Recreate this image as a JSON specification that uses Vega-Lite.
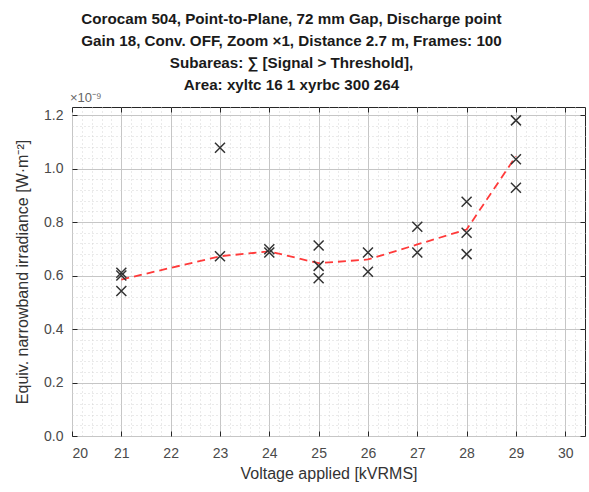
{
  "$schema": "https://vega.github.io/schema/vega-lite/v6.json",
  "autosize": {"type": "none"},
  "width": 513,
  "height": 329,
  "padding": {"left": 72, "top": 107, "right": 4, "bottom": 56},
  "background": "white",
  "config": {
    "font": "Liberation Sans",
    "view": {"stroke": "#262626", "strokeWidth": 1},
    "axis": {"domain": false, "labelFont": "Liberation Sans", "titleFont": "Liberation Sans"}
  },
  "title": {
    "text": [
      "Corocam 504, Point-to-Plane, 72 mm Gap, Discharge point",
      "Gain 18, Conv. OFF, Zoom ×1, Distance 2.7 m, Frames: 100",
      "Subareas: ∑ [Signal > Threshold],",
      "Area: xyltc 16 1 xyrbc 300 264"
    ],
    "fontSize": 15.2,
    "fontWeight": "bold",
    "font": "Liberation Sans",
    "color": "#1a1a1a",
    "lineHeight": 22,
    "anchor": "middle",
    "dx": -37,
    "offset": -1
  },
  "datasets": {
    "points": [
      {"voltage": 21, "irr": 0.61},
      {"voltage": 21, "irr": 0.60},
      {"voltage": 21, "irr": 0.542},
      {"voltage": 23, "irr": 1.078},
      {"voltage": 23, "irr": 0.672},
      {"voltage": 24, "irr": 0.698},
      {"voltage": 24, "irr": 0.686},
      {"voltage": 25, "irr": 0.712},
      {"voltage": 25, "irr": 0.636},
      {"voltage": 25, "irr": 0.59},
      {"voltage": 26, "irr": 0.686},
      {"voltage": 26, "irr": 0.614},
      {"voltage": 27, "irr": 0.782},
      {"voltage": 27, "irr": 0.686},
      {"voltage": 28, "irr": 0.876},
      {"voltage": 28, "irr": 0.76},
      {"voltage": 28, "irr": 0.68},
      {"voltage": 29, "irr": 1.18},
      {"voltage": 29, "irr": 1.035},
      {"voltage": 29, "irr": 0.928}
    ],
    "mean": [
      {"voltage": 21, "irr": 0.585},
      {"voltage": 23, "irr": 0.672},
      {"voltage": 24, "irr": 0.69},
      {"voltage": 25, "irr": 0.646},
      {"voltage": 26, "irr": 0.66},
      {"voltage": 27, "irr": 0.716},
      {"voltage": 28, "irr": 0.772},
      {"voltage": 29, "irr": 1.046}
    ],
    "note": [{"voltage": 20, "irr": 1.23, "label": "×10⁻⁹"}]
  },
  "resolve": {"axis": {"x": "independent", "y": "independent"}},
  "layer": [
    {
      "data": {"name": "mean"},
      "mark": {"type": "line", "color": "#ff3a3a", "strokeWidth": 1.8, "strokeDash": [8, 5]},
      "encoding": {
        "x": {
          "field": "voltage", "type": "quantitative",
          "scale": {"domain": [20, 30.4], "nice": false, "zero": false},
          "axis": {
            "orient": "bottom",
            "values": [20.2,20.4,20.6,20.8,21.2,21.4,21.6,21.8,22.2,22.4,22.6,22.8,23.2,23.4,23.6,23.8,24.2,24.4,24.6,24.8,25.2,25.4,25.6,25.8,26.2,26.4,26.6,26.8,27.2,27.4,27.6,27.8,28.2,28.4,28.6,28.8,29.2,29.4,29.6,29.8,30.2],
            "grid": true, "gridColor": "#d4d4d4", "gridDash": [1, 3], "gridWidth": 1,
            "labels": false, "ticks": false, "domain": false, "title": null,
            "minExtent": 0, "maxExtent": 0
          }
        },
        "y": {
          "field": "irr", "type": "quantitative",
          "scale": {"domain": [0, 1.23], "nice": false, "zero": false},
          "axis": {
            "orient": "left",
            "values": [0.04,0.08,0.12,0.16,0.24,0.28,0.32,0.36,0.44,0.48,0.52,0.56,0.64,0.68,0.72,0.76,0.84,0.88,0.92,0.96,1.04,1.08,1.12,1.16],
            "grid": true, "gridColor": "#d4d4d4", "gridDash": [1, 3], "gridWidth": 1,
            "labels": false, "ticks": false, "domain": false, "title": null,
            "minExtent": 0, "maxExtent": 0
          }
        }
      }
    },
    {
      "data": {"name": "points"},
      "mark": {"type": "point", "shape": "M-1,-1L1,1M-1,1L1,-1", "filled": false, "stroke": "#333333", "strokeWidth": 1.5, "size": 100, "opacity": 1},
      "encoding": {
        "x": {
          "field": "voltage", "type": "quantitative",
          "axis": {
            "orient": "bottom",
            "values": [20,21,22,23,24,25,26,27,28,29,30],
            "grid": true, "gridColor": "#c6c6c6", "gridWidth": 1,
            "ticks": true, "tickSize": -5, "tickColor": "#262626",
            "labelPadding": 15, "labelFontSize": 14, "labelColor": "#4a4a4a",
            "title": "Voltage applied [kVRMS]", "titleFontSize": 16, "titleFontWeight": "normal", "titleColor": "#333333", "titlePadding": 5
          }
        },
        "y": {
          "field": "irr", "type": "quantitative",
          "axis": {
            "orient": "left",
            "values": [0,0.2,0.4,0.6,0.8,1,1.2],
            "grid": true, "gridColor": "#c6c6c6", "gridWidth": 1,
            "ticks": true, "tickSize": -5, "tickColor": "#262626",
            "labelPadding": 14, "labelFontSize": 14, "labelColor": "#4a4a4a",
            "title": "Equiv. narrowband irradiance [W·m⁻²]", "titleFontSize": 16, "titleFontWeight": "normal", "titleColor": "#333333", "titlePadding": 13
          }
        }
      }
    },
    {
      "data": {"name": "note"},
      "mark": {"type": "text", "align": "left", "baseline": "bottom", "dx": -2, "dy": -2, "fontSize": 13, "color": "#666666"},
      "encoding": {
        "text": {"field": "label"},
        "x": {
          "field": "voltage", "type": "quantitative",
          "axis": {
            "orient": "top", "values": [20,21,22,23,24,25,26,27,28,29,30],
            "grid": false, "labels": false, "ticks": true, "tickSize": -5, "tickColor": "#262626",
            "domain": false, "title": null, "minExtent": 0, "maxExtent": 0
          }
        },
        "y": {
          "field": "irr", "type": "quantitative",
          "axis": {
            "orient": "right", "values": [0,0.2,0.4,0.6,0.8,1,1.2],
            "grid": false, "labels": false, "ticks": true, "tickSize": -5, "tickColor": "#262626",
            "domain": false, "title": null, "minExtent": 0, "maxExtent": 0
          }
        }
      }
    }
  ]
}
